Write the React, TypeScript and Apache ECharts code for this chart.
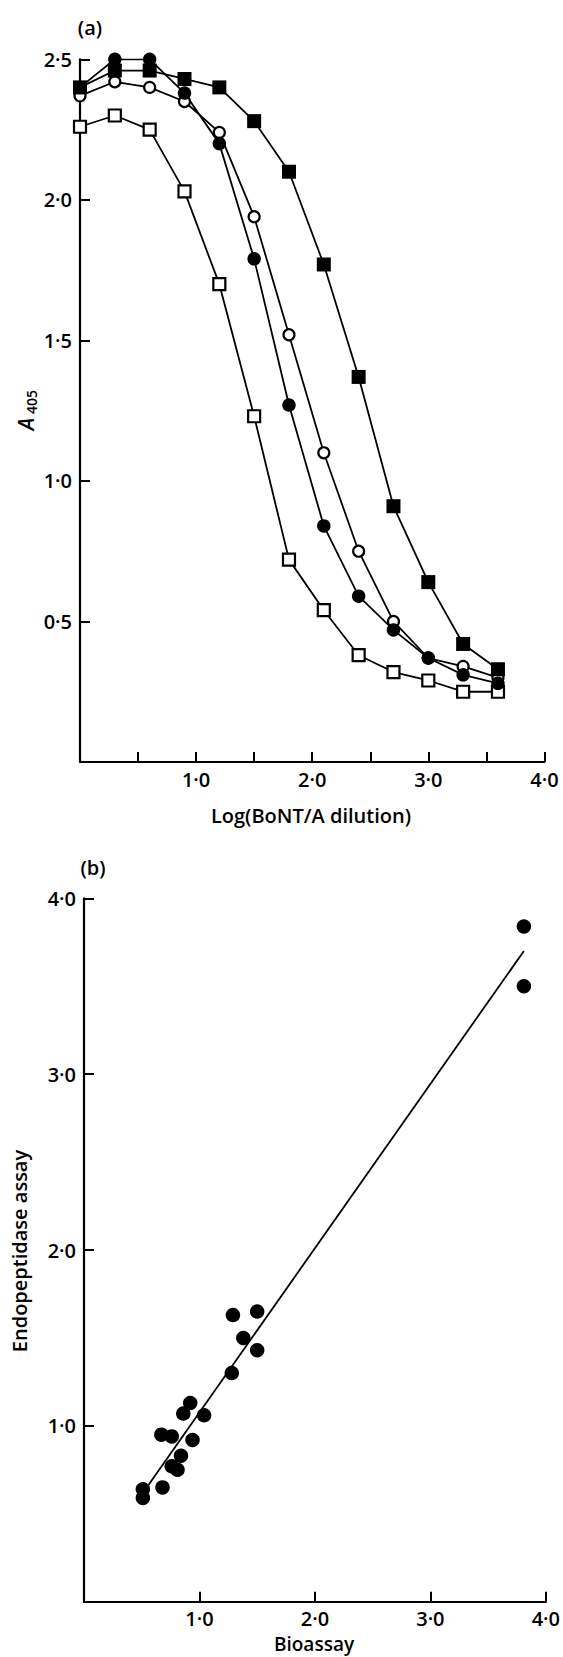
import React, { useEffect, useRef } from "react";
import * as echarts from "echarts";

// Panel (a): ELISA curves
const dilutionLog = [0, 0.3, 0.6, 0.9, 1.2, 1.5, 1.8, 2.1, 2.4, 2.7, 3.0, 3.3, 3.6];
const filledCircle = [2.40, 2.50, 2.50, 2.38, 2.20, 1.79, 1.27, 0.84, 0.59, 0.47, 0.37, 0.31, 0.28];
const openCircle = [2.37, 2.42, 2.40, 2.35, 2.24, 1.94, 1.52, 1.10, 0.75, 0.50, 0.37, 0.34, 0.30];
const filledSquare = [2.40, 2.46, 2.46, 2.43, 2.40, 2.28, 2.10, 1.77, 1.37, 0.91, 0.64, 0.42, 0.33];
const openSquare = [2.26, 2.30, 2.25, 2.03, 1.70, 1.23, 0.72, 0.54, 0.38, 0.32, 0.29, 0.25, 0.25];

// Panel (b): endopeptidase assay vs bioassay
const bioassay = [1.29, 1.50, 1.38, 1.50, 1.28, 0.92, 0.86, 1.04, 0.67, 0.76, 0.94, 0.84, 0.76, 0.81, 0.68, 0.51, 0.51, 3.81, 3.81];
const endopeptidase = [1.63, 1.65, 1.50, 1.43, 1.30, 1.13, 1.07, 1.06, 0.95, 0.94, 0.92, 0.83, 0.77, 0.75, 0.65, 0.64, 0.59, 3.84, 3.50];
const fitSlope = 0.934;
const fitIntercept = 0.142;
const fitRange = [0.56, 3.81];

const FONT = "'Open Sans', 'DejaVu Sans', sans-serif";
const fmt = (v: number) => v.toFixed(1).replace(".", "·");

export default function App() {
  const ref = useRef<HTMLDivElement>(null);
  useEffect(() => {
    if (!ref.current) return;
    const chart = echarts.init(ref.current, null, { renderer: "svg" });
    const axisLine = { show: true, lineStyle: { color: "#000", width: 2.2 } };
    const axisTick = { show: true, inside: true, length: 10, lineStyle: { color: "#000", width: 2 } };
    const labelStyle = { color: "#000", fontSize: 20, lineHeight: 20, fontWeight: 600, fontFamily: FONT, margin: 8 };
    const pair = (xs: number[], ys: number[]) => xs.map((x, i) => [x, ys[i]]);
    const lineSeries = (name: string, ys: number[], symbol: string, size: number, filled: boolean) => ({
      name,
      type: "line",
      xAxisIndex: 0,
      yAxisIndex: 0,
      data: pair(dilutionLog, ys),
      symbol,
      symbolSize: size,
      showAllSymbol: true,
      lineStyle: { color: "#000", width: 1.8 },
      itemStyle: filled
        ? { color: "#000", borderColor: "#000", borderWidth: 0, opacity: 1 }
        : { color: "#fff", borderColor: "#000", borderWidth: 2.2, opacity: 1 },
      emphasis: { disabled: true },
    });
    chart.setOption({
      animation: false,
      grid: [
        { left: 80, top: 59.3, width: 464.4, height: 702.7 },
        { left: 84, top: 898.3, width: 464, height: 703.4 },
      ],
      xAxis: [
        {
          gridIndex: 0, type: "value", min: 0, max: 4, interval: 0.5,
          axisLine, axisTick, splitLine: { show: false },
          axisLabel: { ...labelStyle, margin: 7, formatter: (v: number) => (v > 0 && Math.abs(v - Math.round(v)) < 1e-6 ? fmt(v) : "") },
        },
        {
          gridIndex: 1, type: "value", min: 0, max: 4, interval: 1,
          axisLine, axisTick, splitLine: { show: false },
          axisLabel: { ...labelStyle, margin: 7, formatter: (v: number) => (v > 0 ? fmt(v) : "") },
        },
      ],
      yAxis: [
        {
          gridIndex: 0, type: "value", min: 0, max: 2.5, interval: 0.5,
          axisLine, axisTick, splitLine: { show: false },
          axisLabel: { ...labelStyle, formatter: (v: number) => (v > 0 ? fmt(v) : "") },
        },
        {
          gridIndex: 1, type: "value", min: 0, max: 4, interval: 1,
          axisLine, axisTick, splitLine: { show: false },
          axisLabel: { ...labelStyle, formatter: (v: number) => (v > 0 ? fmt(v) : "") },
        },
      ],
      series: [
        lineSeries("open squares", openSquare, "rect", 12, false),
        lineSeries("open circles", openCircle, "circle", 11, false),
        lineSeries("filled circles", filledCircle, "circle", 13.5, true),
        lineSeries("filled squares", filledSquare, "rect", 14, true),
        {
          name: "fit",
          type: "line",
          xAxisIndex: 1,
          yAxisIndex: 1,
          data: fitRange.map((x) => [x, fitIntercept + fitSlope * x]),
          symbol: "none",
          lineStyle: { color: "#000", width: 1.8 },
          emphasis: { disabled: true },
        },
        {
          name: "samples",
          type: "scatter",
          xAxisIndex: 1,
          yAxisIndex: 1,
          data: pair(bioassay, endopeptidase),
          symbol: "circle",
          symbolSize: 14.5,
          itemStyle: { color: "#000", opacity: 1 },
          emphasis: { disabled: true },
        },
      ],
      graphic: [
        { type: "text", x: 90, y: 27, style: { text: "(a)", font: `600 20px ${FONT}`, fill: "#000", align: "center", verticalAlign: "middle" } },
        { type: "text", x: 93, y: 867, style: { text: "(b)", font: `600 20px ${FONT}`, fill: "#000", align: "center", verticalAlign: "middle" } },
        { type: "text", x: 26, y: 424, rotation: Math.PI / 2, style: { text: "A", font: `italic 600 21px ${FONT}`, fill: "#000", align: "center", verticalAlign: "middle" } },
        { type: "text", x: 31, y: 402, rotation: Math.PI / 2, style: { text: "405", font: `600 14px ${FONT}`, fill: "#000", align: "center", verticalAlign: "middle" } },
        { type: "text", x: 311, y: 815, style: { text: "Log(BoNT/A dilution)", font: `600 20px ${FONT}`, fill: "#000", align: "center", verticalAlign: "middle" } },
        { type: "text", x: 19, y: 1251, rotation: Math.PI / 2, style: { text: "Endopeptidase assay", font: `600 20px ${FONT}`, fill: "#000", align: "center", verticalAlign: "middle" } },
        { type: "text", x: 314, y: 1644, style: { text: "Bioassay", font: `600 19px ${FONT}`, lineHeight: 20, fill: "#000", align: "center", verticalAlign: "middle" } },
      ],
    });
    return () => chart.dispose();
  }, []);
  return (
    <div
      ref={ref}
      style={{ position: "absolute", left: 0, top: 0, width: 563, height: 1657, background: "#fff" }}
    />
  );
}
